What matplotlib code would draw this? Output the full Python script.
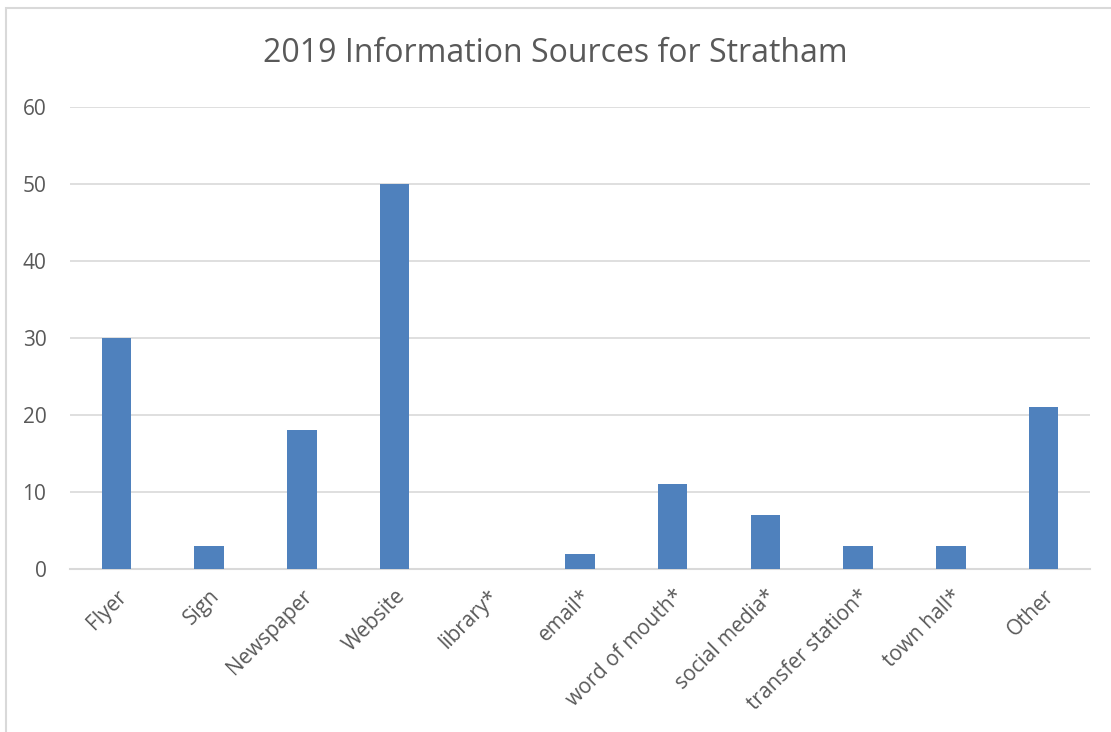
"""2019 Information Sources for Stratham - bar chart"""
from matplotlib import pyplot as plt
from matplotlib.patches import Rectangle

categories = ["Flyer", "Sign", "Newspaper", "Website", "library*", "email*",
              "word of mouth*", "social media*", "transfer station*",
              "town hall*", "Other"]
counts = [30, 3, 18, 50, 0, 2, 11, 7, 3, 3, 21]
y_ticks = [0, 10, 20, 30, 40, 50, 60]

plt.rcParams['font.family'] = ['Open Sans', 'DejaVu Sans']
text_color = "#595959"
grid_color = "#d9d9d9"

fig = plt.figure(figsize=(11.11, 7.32), dpi=100)
ax = fig.add_axes([0.063, 0.2227, 0.918, 0.6311])

# chart frame (cropped on right and bottom)
fig.patches.append(Rectangle((6 / 1111, -0.1), 1.2, 1.1 - 8 / 732,
                             transform=fig.transFigure, fill=False,
                             edgecolor=grid_color, linewidth=1.5))

x = range(len(categories))
ax.bar(x, counts, width=0.32, color="#4f81bd", zorder=3)

ax.set_xlim(-0.5, len(categories) - 0.5)
ax.set_ylim(0, 60)
ax.set_yticks(y_ticks)
ax.set_yticklabels([str(t) for t in y_ticks], fontsize=15, color=text_color)
ax.set_xticks(list(x))
ax.set_xticklabels(categories, rotation=45, ha="right", va="top",
                   rotation_mode="anchor", fontsize=15, color=text_color)
ax.tick_params(axis="both", length=0)
ax.tick_params(axis="y", pad=17)
ax.tick_params(axis="x", pad=12)

ax.grid(axis="y", color=grid_color, linewidth=1.2, zorder=0)
for side in ["top", "right", "left"]:
    ax.spines[side].set_visible(False)
ax.spines["bottom"].set_color(grid_color)
ax.spines["bottom"].set_linewidth(1.5)

fig.text(0.5, 1 - 54 / 732, "2019 Information Sources for Stratham",
         ha="center", va="center", fontsize=23, color=text_color)

plt.savefig("out.png", dpi=100)
